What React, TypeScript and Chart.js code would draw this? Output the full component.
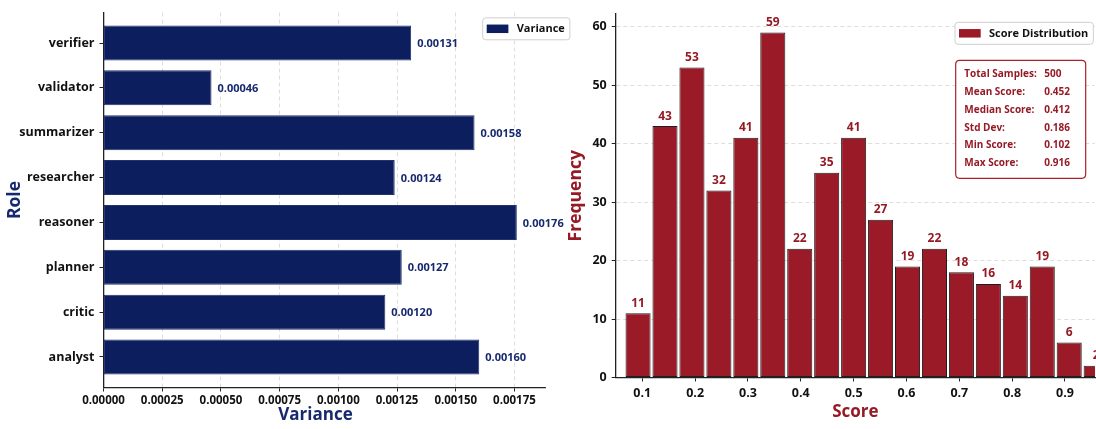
import React, { useEffect, useRef } from "react";
import { Chart, registerables } from "chart.js";

Chart.register(...registerables);

const FONT = "'Open Sans', 'Noto Sans', sans-serif";

// Variance per agent role (bottom to top)
const roles = ["analyst", "critic", "planner", "reasoner", "researcher", "summarizer", "validator", "verifier"];
const variances = [0.0016, 0.0012, 0.00127, 0.00176, 0.00124, 0.00158, 0.00046, 0.00131];
const varianceTicks = [0, 0.00025, 0.0005, 0.00075, 0.001, 0.00125, 0.0015, 0.00175];

// Score histogram: bin centres and counts
const binCenters = [0.092, 0.143, 0.194, 0.245, 0.296, 0.347, 0.398, 0.449, 0.5, 0.551, 0.602, 0.653, 0.704, 0.755, 0.806, 0.857, 0.908, 0.959];
const binCounts = [11, 43, 53, 32, 41, 59, 22, 35, 41, 27, 19, 22, 18, 16, 14, 19, 6, 2];
const scoreTicks = [0.1, 0.2, 0.3, 0.4, 0.5, 0.6, 0.7, 0.8, 0.9];
const frequencyTicks = [0, 10, 20, 30, 40, 50, 60];

// Summary statistics shown in the info box
const statLabels = ["Total Samples:", "Mean Score:", "Median Score:", "Std Dev:", "Min Score:", "Max Score:"];
const statValues = ["500", "0.452", "0.412", "0.186", "0.102", "0.916"];

const NAVY = "#0d1e5e";
const NAVY_TEXT = "#17296e";
const RED = "#9a1b27";
const RED_TEXT = "#961a25";
const TICK_TEXT = "#111111";
const GRID = "#d4d4d4";

function roundRectPath(ctx: CanvasRenderingContext2D, x: number, y: number, w: number, h: number, r: number) {
  ctx.beginPath();
  ctx.moveTo(x + r, y);
  ctx.lineTo(x + w - r, y);
  ctx.quadraticCurveTo(x + w, y, x + w, y + r);
  ctx.lineTo(x + w, y + h - r);
  ctx.quadraticCurveTo(x + w, y + h, x + w - r, y + h);
  ctx.lineTo(x + r, y + h);
  ctx.quadraticCurveTo(x, y + h, x, y + h - r);
  ctx.lineTo(x, y + r);
  ctx.quadraticCurveTo(x, y, x + r, y);
  ctx.closePath();
}

function drawLegendBox(
  ctx: CanvasRenderingContext2D,
  left: number,
  top: number,
  label: string,
  color: string,
  fontPx: number
) {
  ctx.save();
  ctx.font = `bold ${fontPx}px ${FONT}`;
  const tw = ctx.measureText(label).width;
  const padL = 4;
  const sw = 21.7;
  const gap = 8.3;
  const padR = 5;
  const h = 22;
  const w = padL + sw + gap + tw + padR;
  roundRectPath(ctx, left, top, w, h, 3);
  ctx.fillStyle = "rgba(255,255,255,0.92)";
  ctx.fill();
  ctx.strokeStyle = "#cfcfcf";
  ctx.lineWidth = 1;
  ctx.stroke();
  ctx.fillStyle = color;
  ctx.fillRect(left + padL, top + (h - 8.5) / 2, sw, 8.5);
  ctx.fillStyle = "#111111";
  ctx.textAlign = "left";
  ctx.textBaseline = "middle";
  ctx.fillText(label, left + padL + sw + gap, top + h / 2 + 0.5);
  ctx.restore();
}

function varianceConfig(): any {
  const labelPlugin = {
    id: "varianceLabels",
    afterDatasetsDraw(chart: any) {
      const ctx: CanvasRenderingContext2D = chart.ctx;
      const meta = chart.getDatasetMeta(0);
      ctx.save();
      ctx.font = `bold 11px ${FONT}`;
      ctx.fillStyle = NAVY_TEXT;
      ctx.textAlign = "left";
      ctx.textBaseline = "middle";
      meta.data.forEach((bar: any, i: number) => {
        ctx.fillText(variances[i].toFixed(5), bar.x + 6, bar.y + 1);
      });
      ctx.restore();
    },
    afterDraw(chart: any) {
      const ctx: CanvasRenderingContext2D = chart.ctx;
      const area = chart.chartArea;
      drawLegendBox(ctx, area.right - 62.3, area.top + 5.3, chart.data.datasets[0].label, NAVY, 11);

      // x-axis title, placed slightly left of the plot centre
      ctx.save();
      ctx.font = `bold 17px ${FONT}`;
      ctx.fillStyle = NAVY_TEXT;
      ctx.textAlign = "center";
      ctx.textBaseline = "middle";
      ctx.fillText("Variance", area.left + 212, 415.5);
      ctx.restore();
    },
  };

  return {
    type: "bar",
    data: {
      datasets: [
        {
          label: "Variance",
          data: variances.map((v, i) => ({ x: v, y: i })),
          backgroundColor: NAVY,
          borderColor: "#22336f",
          borderWidth: 1,
          borderSkipped: false,
          categoryPercentage: 1,
          barPercentage: 0.78,
        },
      ],
    },
    options: {
      indexAxis: "y",
      animation: false,
      responsive: false,
      maintainAspectRatio: false,
      events: [],
      layout: { padding: { left: 0, top: 12, right: 30, bottom: 0 } },
      plugins: { legend: { display: false }, tooltip: { enabled: false } },
      scales: {
        x: {
          type: "linear",
          position: "bottom",
          min: 0,
          max: 0.00188,
          offset: false,
          afterBuildTicks: (scale: any) => {
            scale.ticks = varianceTicks.map((v) => ({ value: v }));
          },
          afterFit: (scale: any) => {
            scale.height = 41.5;
          },
          ticks: {
            callback: (v: any) => Number(v).toFixed(5),
            font: { family: FONT, size: 11.5, weight: "bold" },
            color: TICK_TEXT,
            padding: 2,
            maxRotation: 0,
          },
          grid: {
            display: true,
            drawOnChartArea: true,
            color: GRID,
            lineWidth: 0.8,
            drawTicks: true,
            tickLength: 4,
            tickColor: "#222222",
            tickWidth: 1,
            offset: false,
          },
          border: { display: true, color: "#222222", width: 1.3, dash: [4, 3] },
          title: { display: false },
        },
        y: {
          type: "linear",
          min: -0.68,
          max: 7.68,
          offset: false,
          afterBuildTicks: (scale: any) => {
            scale.ticks = roles.map((_, i) => ({ value: i }));
          },
          afterFit: (scale: any) => {
            scale.width = 103.5;
          },
          ticks: {
            callback: (v: any) => roles[Number(v)],
            font: { family: FONT, size: 12.5, weight: "bold" },
            color: TICK_TEXT,
            padding: 5,
          },
          grid: {
            display: true,
            drawOnChartArea: false,
            drawTicks: true,
            tickLength: 4,
            tickColor: "#222222",
            tickWidth: 1,
            offset: false,
          },
          border: { display: true, color: "#222222", width: 1.3 },
          title: {
            display: true,
            text: "Role",
            color: NAVY_TEXT,
            font: { family: FONT, size: 17.5, weight: "bold" },
            padding: { top: 4.5, bottom: 0 },
          },
        },
      },
    },
    plugins: [labelPlugin],
  };
}

function scoreConfig(): any {
  const labelPlugin = {
    id: "scoreLabels",
    afterDatasetsDraw(chart: any) {
      const ctx: CanvasRenderingContext2D = chart.ctx;
      const meta = chart.getDatasetMeta(0);
      ctx.save();
      ctx.font = `bold 12px ${FONT}`;
      ctx.fillStyle = RED_TEXT;
      ctx.textAlign = "center";
      ctx.textBaseline = "middle";
      meta.data.forEach((bar: any, i: number) => {
        ctx.fillText(String(binCounts[i]), bar.x, bar.y - 10);
      });
      ctx.restore();
    },
    afterDraw(chart: any) {
      const ctx: CanvasRenderingContext2D = chart.ctx;
      const area = chart.chartArea;
      drawLegendBox(ctx, area.right - 140, area.top + 8.3, chart.data.datasets[0].label, RED, 11);

      // statistics box
      const bx = area.right - 139.3;
      const by = area.top + 46.3;
      const bw = 130;
      const bh = 118;
      ctx.save();
      roundRectPath(ctx, bx, by, bw, bh, 4);
      ctx.fillStyle = "rgba(255,255,255,0.92)";
      ctx.fill();
      ctx.strokeStyle = "#a8202e";
      ctx.lineWidth = 1.2;
      ctx.stroke();
      ctx.font = `bold 10px ${FONT}`;
      ctx.fillStyle = RED_TEXT;
      ctx.textAlign = "left";
      ctx.textBaseline = "middle";
      statLabels.forEach((lab, i) => {
        const y = by + 13.7 + i * 17.9;
        ctx.fillText(lab, bx + 8.6, y);
        ctx.fillText(statValues[i], bx + 88.6, y);
      });
      ctx.restore();
    },
  };

  return {
    type: "bar",
    data: {
      datasets: [
        {
          label: "Score Distribution",
          data: binCenters.map((x, i) => ({ x, y: binCounts[i] })),
          backgroundColor: RED,
          borderColor: "#1e1e1e",
          borderWidth: 1,
          borderSkipped: false,
          categoryPercentage: 1,
          barPercentage: 0.93,
        },
      ],
    },
    options: {
      animation: false,
      responsive: false,
      maintainAspectRatio: false,
      events: [],
      layout: { padding: { left: 0, top: 14, right: 1, bottom: 0 } },
      plugins: { legend: { display: false }, tooltip: { enabled: false } },
      scales: {
        x: {
          type: "linear",
          position: "bottom",
          min: 0.0497,
          max: 0.9568,
          offset: false,
          afterBuildTicks: (scale: any) => {
            scale.ticks = scoreTicks.map((v) => ({ value: v }));
          },
          afterFit: (scale: any) => {
            scale.height = 51.5;
          },
          ticks: {
            callback: (v: any) => Number(v).toFixed(1),
            font: { family: FONT, size: 12.5, weight: "bold" },
            color: TICK_TEXT,
            padding: 4,
            maxRotation: 0,
          },
          grid: {
            display: true,
            drawOnChartArea: false,
            drawTicks: true,
            tickLength: 4,
            tickColor: "#222222",
            tickWidth: 1,
            offset: false,
          },
          border: { display: true, color: "#222222", width: 1.3 },
          title: {
            display: true,
            text: "Score",
            color: RED_TEXT,
            font: { family: FONT, size: 17, weight: "bold" },
            padding: { top: 0, bottom: 6.5 },
          },
        },
        y: {
          type: "linear",
          min: 0,
          max: 62.17,
          afterBuildTicks: (scale: any) => {
            scale.ticks = frequencyTicks.map((v) => ({ value: v }));
          },
          afterFit: (scale: any) => {
            scale.width = 55.7;
          },
          ticks: {
            font: { family: FONT, size: 12.5, weight: "bold" },
            color: TICK_TEXT,
            padding: 5,
          },
          grid: {
            display: true,
            drawOnChartArea: true,
            color: GRID,
            lineWidth: 0.8,
            drawTicks: true,
            tickLength: 4,
            tickColor: "#222222",
            tickWidth: 1,
          },
          border: { display: true, color: "#222222", width: 1.3, dash: [4, 3] },
          title: {
            display: true,
            text: "Frequency",
            color: RED_TEXT,
            font: { family: FONT, size: 17.5, weight: "bold" },
            padding: { top: 5.5, bottom: 0 },
          },
        },
      },
    },
    plugins: [labelPlugin],
  };
}

export default function App() {
  const leftRef = useRef<HTMLCanvasElement>(null);
  const rightRef = useRef<HTMLCanvasElement>(null);

  useEffect(() => {
    const left = new Chart(leftRef.current as HTMLCanvasElement, varianceConfig());
    const right = new Chart(rightRef.current as HTMLCanvasElement, scoreConfig());
    return () => {
      left.destroy();
      right.destroy();
    };
  }, []);

  return (
    <div
      style={{
        position: "fixed",
        left: 0,
        top: 0,
        width: 1096,
        height: 429,
        background: "#ffffff",
        overflow: "hidden",
      }}
    >
      <canvas
        ref={leftRef}
        width={575}
        height={429}
        style={{ position: "absolute", left: 0, top: 0, width: 575, height: 429 }}
      />
      <canvas
        ref={rightRef}
        width={536}
        height={429}
        style={{ position: "absolute", left: 560, top: 0, width: 536, height: 429 }}
      />
    </div>
  );
}
